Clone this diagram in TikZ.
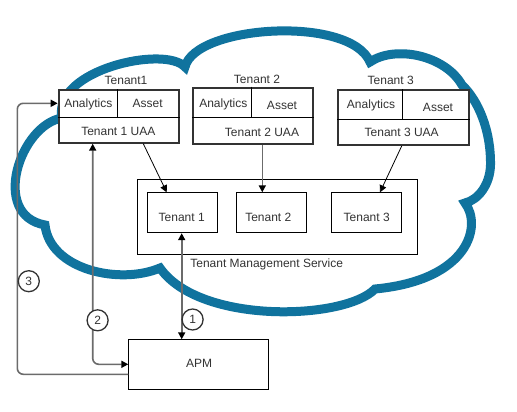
\documentclass[tikz,border=0pt]{standalone}
\usepackage{fontspec}
\setmainfont{Liberation Sans}
\usetikzlibrary{arrows.meta}
\definecolor{cloudblue}{HTML}{10739E}
\definecolor{txt}{HTML}{333333}
\definecolor{lgray}{HTML}{6B6B6B}
\begin{document}
\begin{tikzpicture}[x=1pt,y=-1pt,
  >={Triangle[length=7pt,width=7pt,color=black]},
  lbl/.style={font=\fontsize{12}{14}\selectfont, text=txt, inner sep=0pt, anchor=base},
  tbox/.style={draw=txt, line width=2pt, fill=white, inner sep=0pt, anchor=north west},
  sbox/.style={draw=black, line width=0.9pt, fill=white, inner sep=0pt, anchor=north west},
  cell/.style={draw=black, line width=0.9pt},
  garrow/.style={draw=lgray, line width=1.6pt},
  barrow/.style={draw=black, line width=0.8pt, ->},
  num/.style={circle, draw=txt, line width=1.3pt, fill=white, minimum size=21pt, inner sep=0pt, font=\fontsize{12}{14}\selectfont, text=txt}
]
\useasboundingbox (0,0) rectangle (517,412);

% cloud
\draw[cloudblue, line width=9pt, fill=white, line join=miter]
 (62,118) .. controls (52,70) and (165,45) .. (185,67)
 .. controls (195,25) and (350,15) .. (370,62)
 .. controls (395,45) and (445,55) .. (462,85)
 .. controls (478,100) and (491,130) .. (490.5,165)
 .. controls (490,185) and (478,200) .. (465,203)
 .. controls (482,225) and (470,280) .. (375,289)
 .. controls (345,320) and (200,325) .. (160,268)
 .. controls (120,285) and (50,270) .. (45,225)
 .. controls (-10,215) and (20,125) .. (62,118) -- cycle;

% Tenant management service
\node[sbox, minimum width=280.6pt, minimum height=74.7pt] (tms) at (136.7,179.3) {};
\node[sbox, minimum width=70pt, minimum height=40pt] (tm1) at (147.3,192.3) {};
\node[sbox, minimum width=70pt, minimum height=40pt] (tm2) at (236.3,192.3) {};
\node[sbox, minimum width=70pt, minimum height=40pt] (tm3) at (331.3,192.3) {};
\node[lbl] (tm1l) at (181.7,221) {Tenant 1};
\node[lbl] (tm2l) at (268.3,221) {Tenant 2};
\node[lbl] (tm3l) at (366.7,221) {Tenant 3};
\node[lbl] (tmsl) at (266.7,267.6) {Tenant Management Service};

% APM
\node[sbox, minimum width=140pt, minimum height=49.7pt] (apm) at (128.3,339.3) {};
\node[lbl] (apml) at (199,367.6) {APM};

% Tenant 1
\node[tbox, minimum width=120.3pt, minimum height=52.4pt] (t1) at (57.7,89.3) {};
\draw[cell] (t1.west |- 0,117.3) -- (t1.east |- 0,117.3);
\draw[cell] (t1.north -| 117.7,0) -- (117.7,117.3);
\node[lbl] (t1n) at (126,84.3) {Tenant1};
\node[lbl] (t1a) at (88.3,107.6) {Analytics};
\node[lbl] (t1s) at (147.7,107.6) {Asset};
\node[lbl] (t1u) at (118.3,135.3) {Tenant 1 UAA};

% Tenant 2
\node[tbox, minimum width=120pt, minimum height=56.6pt] (t2) at (192.3,86.7) {};
\draw[cell] (t2.west |- 0,117.3) -- (t2.east |- 0,117.3);
\draw[cell] (t2.north -| 251.7,0) -- (251.7,117.3);
\node[lbl] (t2n) at (257,83.3) {Tenant 2};
\node[lbl] (t2a) at (223.3,107.6) {Analytics};
\node[lbl] (t2s) at (282,110) {Asset};
\node[lbl] (t2u) at (262,136.3) {Tenant 2 UAA};

% Tenant 3
\node[tbox, minimum width=131pt, minimum height=54.7pt] (t3) at (337.3,89.3) {};
\draw[cell] (t3.west |- 0,119.3) -- (t3.east |- 0,119.3);
\draw[cell] (t3.north -| 402.7,0) -- (402.7,119.3);
\node[lbl] (t3n) at (390.7,84.3) {Tenant 3};
\node[lbl] (t3a) at (371,108.6) {Analytics};
\node[lbl] (t3s) at (438,111) {Asset};
\node[lbl] (t3u) at (401.7,136.6) {Tenant 3 UAA};

% connectors tenants -> TMS
\draw[barrow] (t1.south -| 143.3,0) -- (tm1.north -| 166.7,0);
\draw[garrow, ->] (t2.south -| 262.3,0) -- (tm2.north -| 262.3,0);
\draw[barrow] (t3.south -| 401.7,0) -- (tm3.north -| 380,0);

% APM connectors
\draw[garrow, <->] (tm1.south -| 181.7,0) -- (apm.north -| 181.7,0);
\draw[garrow, <->, rounded corners=6pt] (t1.south -| 92.7,0) -- (92.7,364.3) -- (apm.west |- 0,364.3);
\draw[garrow, ->, rounded corners=6pt] (apm.west |- 0,374.3) -- (17.3,374.3) -- (17.3,103.3) -- (t1.west |- 0,103.3);

% numbers
\node[num] (n1) at (192.6,319.5) {1};
\node[num] (n2) at (97.6,320.3) {2};
\node[num] (n3) at (28.8,281.2) {3};
\end{tikzpicture}
\end{document}
